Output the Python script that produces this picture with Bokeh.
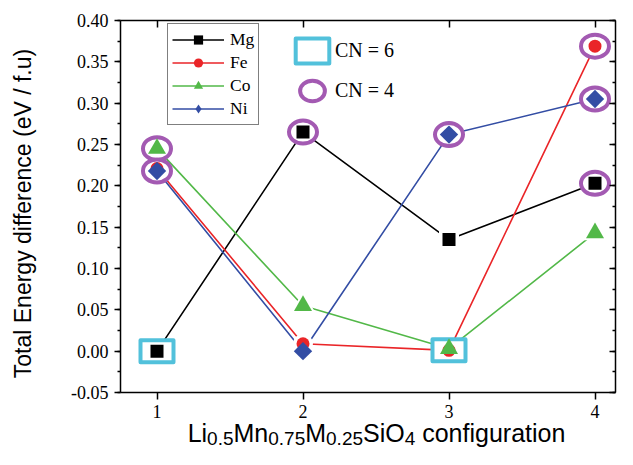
import math
from bokeh.plotting import figure
from bokeh.models import (LinearAxis, FixedTicker, SingleIntervalTicker, NumeralTickFormatter,
                          Range1d, Legend, LegendItem, Label, ColumnDataSource)
from bokeh.embed import file_html
from bokeh.resources import INLINE

# ---------------- data ----------------
configs = [1, 2, 3, 4]
series_names = ["Mg", "Fe", "Co", "Ni"]
mg = [0.000, 0.265, 0.135, 0.203]
fe = [0.221, 0.009, 0.001, 0.369]
co = [0.245, 0.055, 0.003, 0.143]
ni = [0.218, 0.000, 0.262, 0.305]
x_ticks = [1, 2, 3, 4]
y_tick_interval = 0.05
y_label = "Total Energy difference (eV / f.u)"
cn6_label = "CN = 6"
cn4_label = "CN = 4"
cn6_points = [("Mg", 0), ("Fe", 2)]
cn4_points = [("Co", 0), ("Ni", 0), ("Mg", 1), ("Ni", 2), ("Fe", 3), ("Ni", 3), ("Mg", 3)]

series = {"Mg": mg, "Fe": fe, "Co": co, "Ni": ni}

# ---------------- layout / styles ----------------
W, H = 617, 449
X_MIN, X_MAX = 0.75, 4.14      # axis box in data units
Y_MIN, Y_MAX = -0.05, 0.40
PX_PER_X = 146.0               # horizontal scale (px per configuration)
PX_PER_Y = 826.7               # vertical scale (px per eV)
BOX_LEFT_PX, BOX_TOP_PX = 120.0, 20.0

colors = {"Mg": "#000000", "Fe": "#EA2528", "Co": "#52B848", "Ni": "#334DA4"}
markers = {"Mg": ("square", 13, 0.0), "Fe": ("circle", 13, 0.0),
           "Co": ("triangle", 18, 0.0), "Ni": ("square", 13, math.pi / 4)}
CYAN = "#52C1DB"
PURPLE = "#A35AB2"
SERIF = "Liberation Serif"
SANS = "Liberation Sans"

# the frame covers the whole canvas; axes are pinned at the box edges
xr = Range1d(X_MIN - BOX_LEFT_PX / PX_PER_X, X_MIN + (W - BOX_LEFT_PX) / PX_PER_X)
yr_ = Range1d(Y_MAX - (H - BOX_TOP_PX) / PX_PER_Y, Y_MAX + BOX_TOP_PX / PX_PER_Y)

p = figure(width=W, height=H, output_backend="svg", toolbar_location=None,
           x_range=xr, y_range=yr_,
           min_border_left=0, min_border_right=0, min_border_top=0, min_border_bottom=0,
           x_axis_location=None, y_axis_location=None, background_fill_color="white",
           border_fill_color="white")
p.grid.visible = False
p.outline_line_color = None


def style_axis(ax):
    ax.axis_line_color = "black"
    ax.axis_line_width = 1.5
    ax.major_tick_line_color = "black"
    ax.major_tick_line_width = 1.5
    ax.minor_tick_line_color = "black"
    ax.minor_tick_line_width = 1.5
    ax.major_label_text_font = SERIF
    ax.major_label_text_font_size = "18px"
    ax.major_label_text_color = "black"


# bottom axis
xb = LinearAxis(ticker=FixedTicker(ticks=x_ticks, minor_ticks=[]),
                fixed_location=Y_MIN, bounds=(X_MIN, X_MAX))
style_axis(xb)
xb.major_tick_out = 7
xb.major_tick_in = 0
xb.major_label_standoff = 5
p.add_layout(xb, "below")

# top axis (ticks only, inward)
xt = LinearAxis(ticker=FixedTicker(ticks=x_ticks, minor_ticks=[]),
                fixed_location=Y_MAX, bounds=(X_MIN, X_MAX))
style_axis(xt)
xt.major_tick_out = 0
xt.major_tick_in = 7
xt.major_label_text_color = None
xt.major_label_standoff = 0
p.add_layout(xt, "above")

# left axis
yl = LinearAxis(ticker=SingleIntervalTicker(interval=y_tick_interval, num_minor_ticks=2),
                formatter=NumeralTickFormatter(format="0.00"),
                fixed_location=X_MIN, bounds=(Y_MIN, Y_MAX))
style_axis(yl)
yl.major_tick_out = 6
yl.major_tick_in = 0
yl.minor_tick_out = 3
yl.minor_tick_in = 0
yl.major_label_standoff = 6
p.add_layout(yl, "left")

# right axis (ticks only, inward)
yrt = LinearAxis(ticker=SingleIntervalTicker(interval=y_tick_interval, num_minor_ticks=2),
                 fixed_location=X_MAX, bounds=(Y_MIN, Y_MAX))
style_axis(yrt)
yrt.major_tick_out = 0
yrt.major_tick_in = 6
yrt.minor_tick_out = 0
yrt.minor_tick_in = 3
yrt.major_label_text_color = None
yrt.major_label_standoff = 0
p.add_layout(yrt, "right")

# ---------------- lines ----------------
line_r = {}
for name in series_names:
    src = ColumnDataSource(dict(x=configs, y=series[name]))
    line_r[name] = p.line("x", "y", source=src, line_color=colors[name], line_width=1.6)

# small un-rotated diamond for the Ni legend entry (legend glyphs are never rotated);
# it sits underneath the real Ni markers and is fully hidden in the plot
ni_legend_r = p.scatter(configs, ni, marker="diamond", size=9, fill_color=colors["Ni"],
                        line_color=None)

# white halos (gaps between lines and markers)
for name in series_names:
    mk, sz, ang = markers[name]
    src = ColumnDataSource(dict(x=configs, y=series[name]))
    p.scatter("x", "y", source=src, marker=mk, size=sz + 7, angle=ang,
              fill_color="white", line_color=None)

# highlights
cn6_src = ColumnDataSource(dict(x=[configs[i] for n, i in cn6_points],
                                y=[series[n][i] for n, i in cn6_points]))
cn4_src = ColumnDataSource(dict(x=[configs[i] for n, i in cn4_points],
                                y=[series[n][i] for n, i in cn4_points]))
rect_r = p.rect("x", "y", source=cn6_src, width=33, height=22, width_units="screen",
                height_units="screen", fill_color="white", line_color=CYAN, line_width=4,
                line_join="round")
ell_r = p.ellipse("x", "y", source=cn4_src, width=28, height=23, width_units="screen",
                  height_units="screen", fill_color="white", line_color=PURPLE, line_width=4)

# markers
marker_r = {}
for name in series_names:
    mk, sz, ang = markers[name]
    src = ColumnDataSource(dict(x=configs, y=series[name]))
    marker_r[name] = p.scatter("x", "y", source=src, marker=mk, size=sz, angle=ang,
                               fill_color=colors[name], line_color=None)

legend_marker_r = dict(marker_r)
legend_marker_r["Ni"] = ni_legend_r

# ---------------- legends ----------------
leg = Legend(items=[LegendItem(label=n, renderers=[line_r[n], legend_marker_r[n]])
                    for n in series_names],
             location=(167, 324), orientation="vertical")
leg.border_line_color = "black"
leg.border_line_width = 1
leg.background_fill_color = "white"
leg.background_fill_alpha = 1
leg.label_text_font = SERIF
leg.label_text_font_size = "17.5px"
leg.label_text_color = "black"
leg.glyph_width = 52
leg.glyph_height = 23
leg.label_height = 23
leg.spacing = -1
leg.padding = 4
leg.margin = 0
leg.label_standoff = 6
p.add_layout(leg, "center")

leg2 = Legend(items=[LegendItem(label=cn6_label, renderers=[rect_r]),
                     LegendItem(label=cn4_label, renderers=[ell_r])],
              location=(291, 343))
leg2.border_line_color = None
leg2.background_fill_alpha = 0
leg2.label_text_font = SERIF
leg2.label_text_font_size = "20px"
leg2.label_text_color = "black"
leg2.glyph_width = 42
leg2.glyph_height = 31
leg2.label_height = 31
leg2.spacing = 9
leg2.padding = 0
leg2.margin = 0
leg2.label_standoff = 2
p.add_layout(leg2, "center")

# ---------------- axis titles ----------------
p.add_layout(Label(x=22, y=H - 213, x_units="screen", y_units="screen", text=y_label,
                   angle=math.pi / 2, text_font=SANS, text_font_size="23px",
                   text_color="black", text_align="center", text_baseline="middle"))

ARIAL = {"L": .556, "i": .222, "M": .833, "n": .556, "S": .667, "O": .778, "0": .556,
         "2": .556, "4": .556, "5": .556, "7": .556, ".": .278, " ": .278, "c": .5,
         "o": .556, "f": .278, "g": .556, "u": .556, "r": .333, "a": .556, "t": .278}
segments = [("Li", False), ("0.5", True), ("Mn", False), ("0.75", True), ("M", False),
            ("0.25", True), ("SiO", False), ("4", True), (" configuration", False)]
MAIN_FS, SUB_FS = 25, 19
MAIN_BASE, SUB_BASE = H - 432, H - 438


def tw(s, fs):
    return sum(ARIAL.get(c, 0.55) for c in s) * fs


total = sum(tw(s, SUB_FS if sub else MAIN_FS) for s, sub in segments)
cur = 376 - total / 2
for s, sub in segments:
    fs = SUB_FS if sub else MAIN_FS
    lead = len(s) - len(s.lstrip(" "))
    txt = s.strip(" ")
    lx = cur + tw(" " * lead, fs)
    p.add_layout(Label(x=lx, y=SUB_BASE if sub else MAIN_BASE, x_units="screen", y_units="screen",
                       text=txt, text_font=SANS, text_font_size=f"{fs}px",
                       text_color="black", text_align="left", text_baseline="alphabetic"))
    cur += tw(s, fs)

open("out.html", "w").write(file_html(p, INLINE))
